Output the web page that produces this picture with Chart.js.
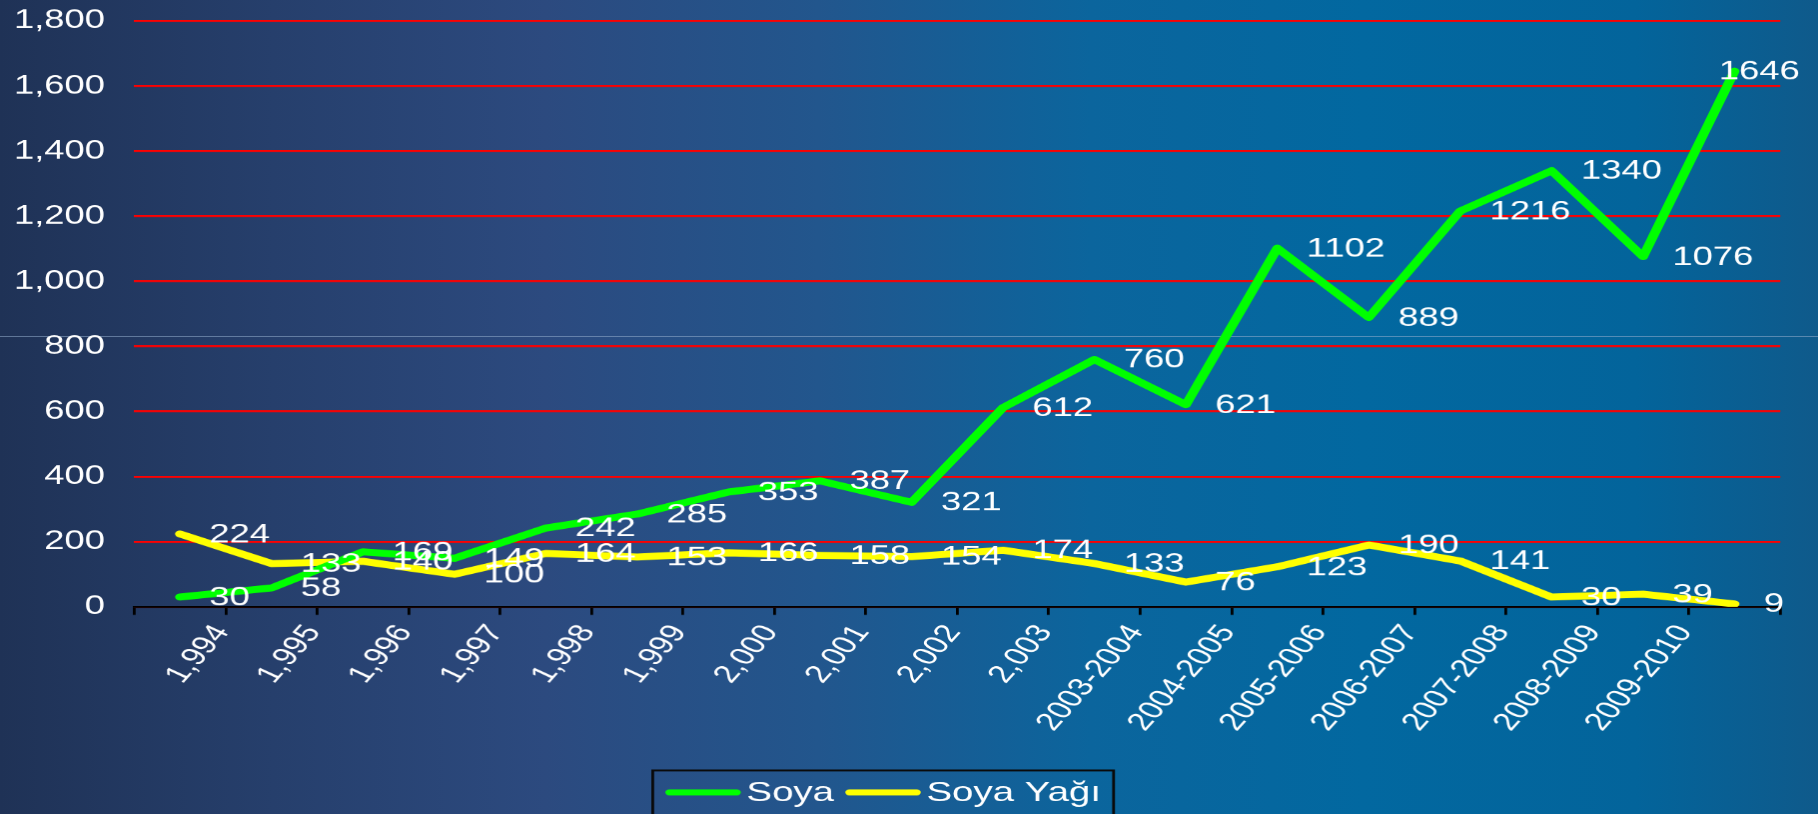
<!DOCTYPE html>
<html>
<head>
<meta charset="utf-8">
<script src="https://cdn.jsdelivr.net/npm/chart.js@4.4.1/dist/chart.umd.min.js"></script>
<style>
  html, body { margin: 0; padding: 0; width: 1818px; height: 814px; overflow: hidden; }
  body {
    background: linear-gradient(to right, #1f3256 0%, #263f6c 15%, #2c4a7f 30%, #22568d 45%, #0b659d 60%, #0268a0 75%, #03649b 90%, #0f5a8b 100%);
    position: relative;
  }
  #seam { position: absolute; left: 0; top: 336px; width: 1818px; height: 1px; background: rgba(150,175,205,0.55); }
  #wrap { position: absolute; left: 0; top: 0; width: 1300px; height: 814px; transform: scaleX(1.398462); transform-origin: 0 0; }
</style>
</head>
<body>
<div id="seam"></div>
<div id="wrap"><canvas id="c"></canvas></div>
<script>
const categories = ["1,994", "1,995", "1,996", "1,997", "1,998", "1,999", "2,000", "2,001", "2,002", "2,003",
  "2003-2004", "2004-2005", "2005-2006", "2006-2007", "2007-2008", "2008-2009", "2009-2010", ""];
const soya = [30, 58, 169, 149, 242, 285, 353, 387, 321, 612, 760, 621, 1102, 889, 1216, 1340, 1076, 1646];
const soyaYagi = [224, 133, 140, 100, 164, 153, 166, 158, 154, 174, 133, 76, 123, 190, 141, 30, 39, 9];
const seriesNames = ["Soya", "Soya Yağı"];
const yMin = 0, yMax = 1800, yStep = 200;

const FONT = "'Liberation Sans', Arial, sans-serif";

const valueLabels = {
  id: 'valueLabels',
  afterDatasetsDraw(chart) {
    const ctx = chart.ctx;
    ctx.save();
    ctx.font = '26px ' + FONT;
    ctx.fillStyle = '#ffffff';
    ctx.textBaseline = 'middle';
    ctx.textAlign = 'left';
    chart.data.datasets.forEach((ds, di) => {
      const meta = chart.getDatasetMeta(di);
      meta.data.forEach((pt, i) => {
        const txt = String(ds.data[i]);
        const w = ctx.measureText(txt).width;
        let x = pt.x + 21;
        if (x + w > chart.width - 13) x = chart.width - 13 - w;
        ctx.fillText(txt, x, pt.y + 1);
      });
    });
    ctx.restore();
  }
};

// Legend drawn from the datasets (Excel-style framed legend)
const framedLegend = {
  id: 'framedLegend',
  afterDraw(chart) {
    const ctx = chart.ctx;
    const lineLen = 48, lineW = 6, capGap = 3, textGap = 4, itemGap = 8, pad = 9;
    const cx = 631.5, cy = 792;
    ctx.save();
    ctx.font = '27.5px ' + FONT;
    const items = chart.data.datasets.map(ds => ({ label: ds.label, color: ds.borderColor, w: ctx.measureText(ds.label).width }));
    let total = 0;
    items.forEach((it, i) => { total += capGap + lineLen + capGap + textGap + it.w + (i < items.length - 1 ? itemGap : 0); });
    const boxL = cx - total / 2 - pad, boxR = cx + total / 2 + pad;
    ctx.strokeStyle = '#0a0a0a';
    ctx.lineWidth = 2;
    ctx.strokeRect(boxL, 770, boxR - boxL, 80);
    let x = cx - total / 2;
    items.forEach(it => {
      ctx.strokeStyle = it.color;
      ctx.lineWidth = lineW;
      ctx.lineCap = 'round';
      ctx.beginPath();
      ctx.moveTo(x + capGap, cy);
      ctx.lineTo(x + capGap + lineLen, cy);
      ctx.stroke();
      x += capGap + lineLen + capGap + textGap;
      ctx.fillStyle = '#ffffff';
      ctx.textBaseline = 'middle';
      ctx.textAlign = 'left';
      ctx.fillText(it.label, x, cy + 1);
      x += it.w + itemGap;
    });
    ctx.restore();
  }
};

new Chart(document.getElementById('c'), {
  type: 'line',
  data: {
    labels: categories,
    datasets: [
      { label: seriesNames[0], data: soya, borderColor: '#00ff00', backgroundColor: '#00ff00',
        borderWidth: 7, pointRadius: 0, tension: 0, borderCapStyle: 'round', borderJoinStyle: 'round' },
      { label: seriesNames[1], data: soyaYagi, borderColor: '#ffff00', backgroundColor: '#ffff00',
        borderWidth: 7, pointRadius: 0, tension: 0, borderCapStyle: 'round', borderJoinStyle: 'round' }
    ]
  },
  options: {
    responsive: true,
    maintainAspectRatio: false,
    devicePixelRatio: 1.4,
    animation: false,
    events: [],
    layout: { padding: { left: 10, right: 27, top: 21, bottom: 44 } },
    scales: {
      x: {
        offset: true,
        grid: { offset: true, drawOnChartArea: false, drawTicks: true, tickLength: 8, color: '#000000', lineWidth: 2 },
        border: { display: true, color: '#000000', width: 2 },
        ticks: { color: '#ffffff', font: { size: 25, family: FONT }, autoSkip: false,
                 minRotation: 57, maxRotation: 57, labelOffset: 30, padding: 5 },
        afterFit(s) { s.height = 163.5; }
      },
      y: {
        min: yMin, max: yMax,
        grid: { color: '#ff0000', lineWidth: 2, drawTicks: true, tickLength: 21, tickColor: 'rgba(0,0,0,0)' },
        border: { display: false },
        ticks: { stepSize: yStep, color: '#ffffff', font: { size: 26, family: FONT }, padding: 0,
                 callback: v => Number(v).toLocaleString('en-US') },
        afterFit(s) { s.width = 86; }
      }
    },
    plugins: {
      tooltip: { enabled: false },
      legend: { display: false }
    }
  },
  plugins: [valueLabels, framedLegend]
});
</script>
</body>
</html>
